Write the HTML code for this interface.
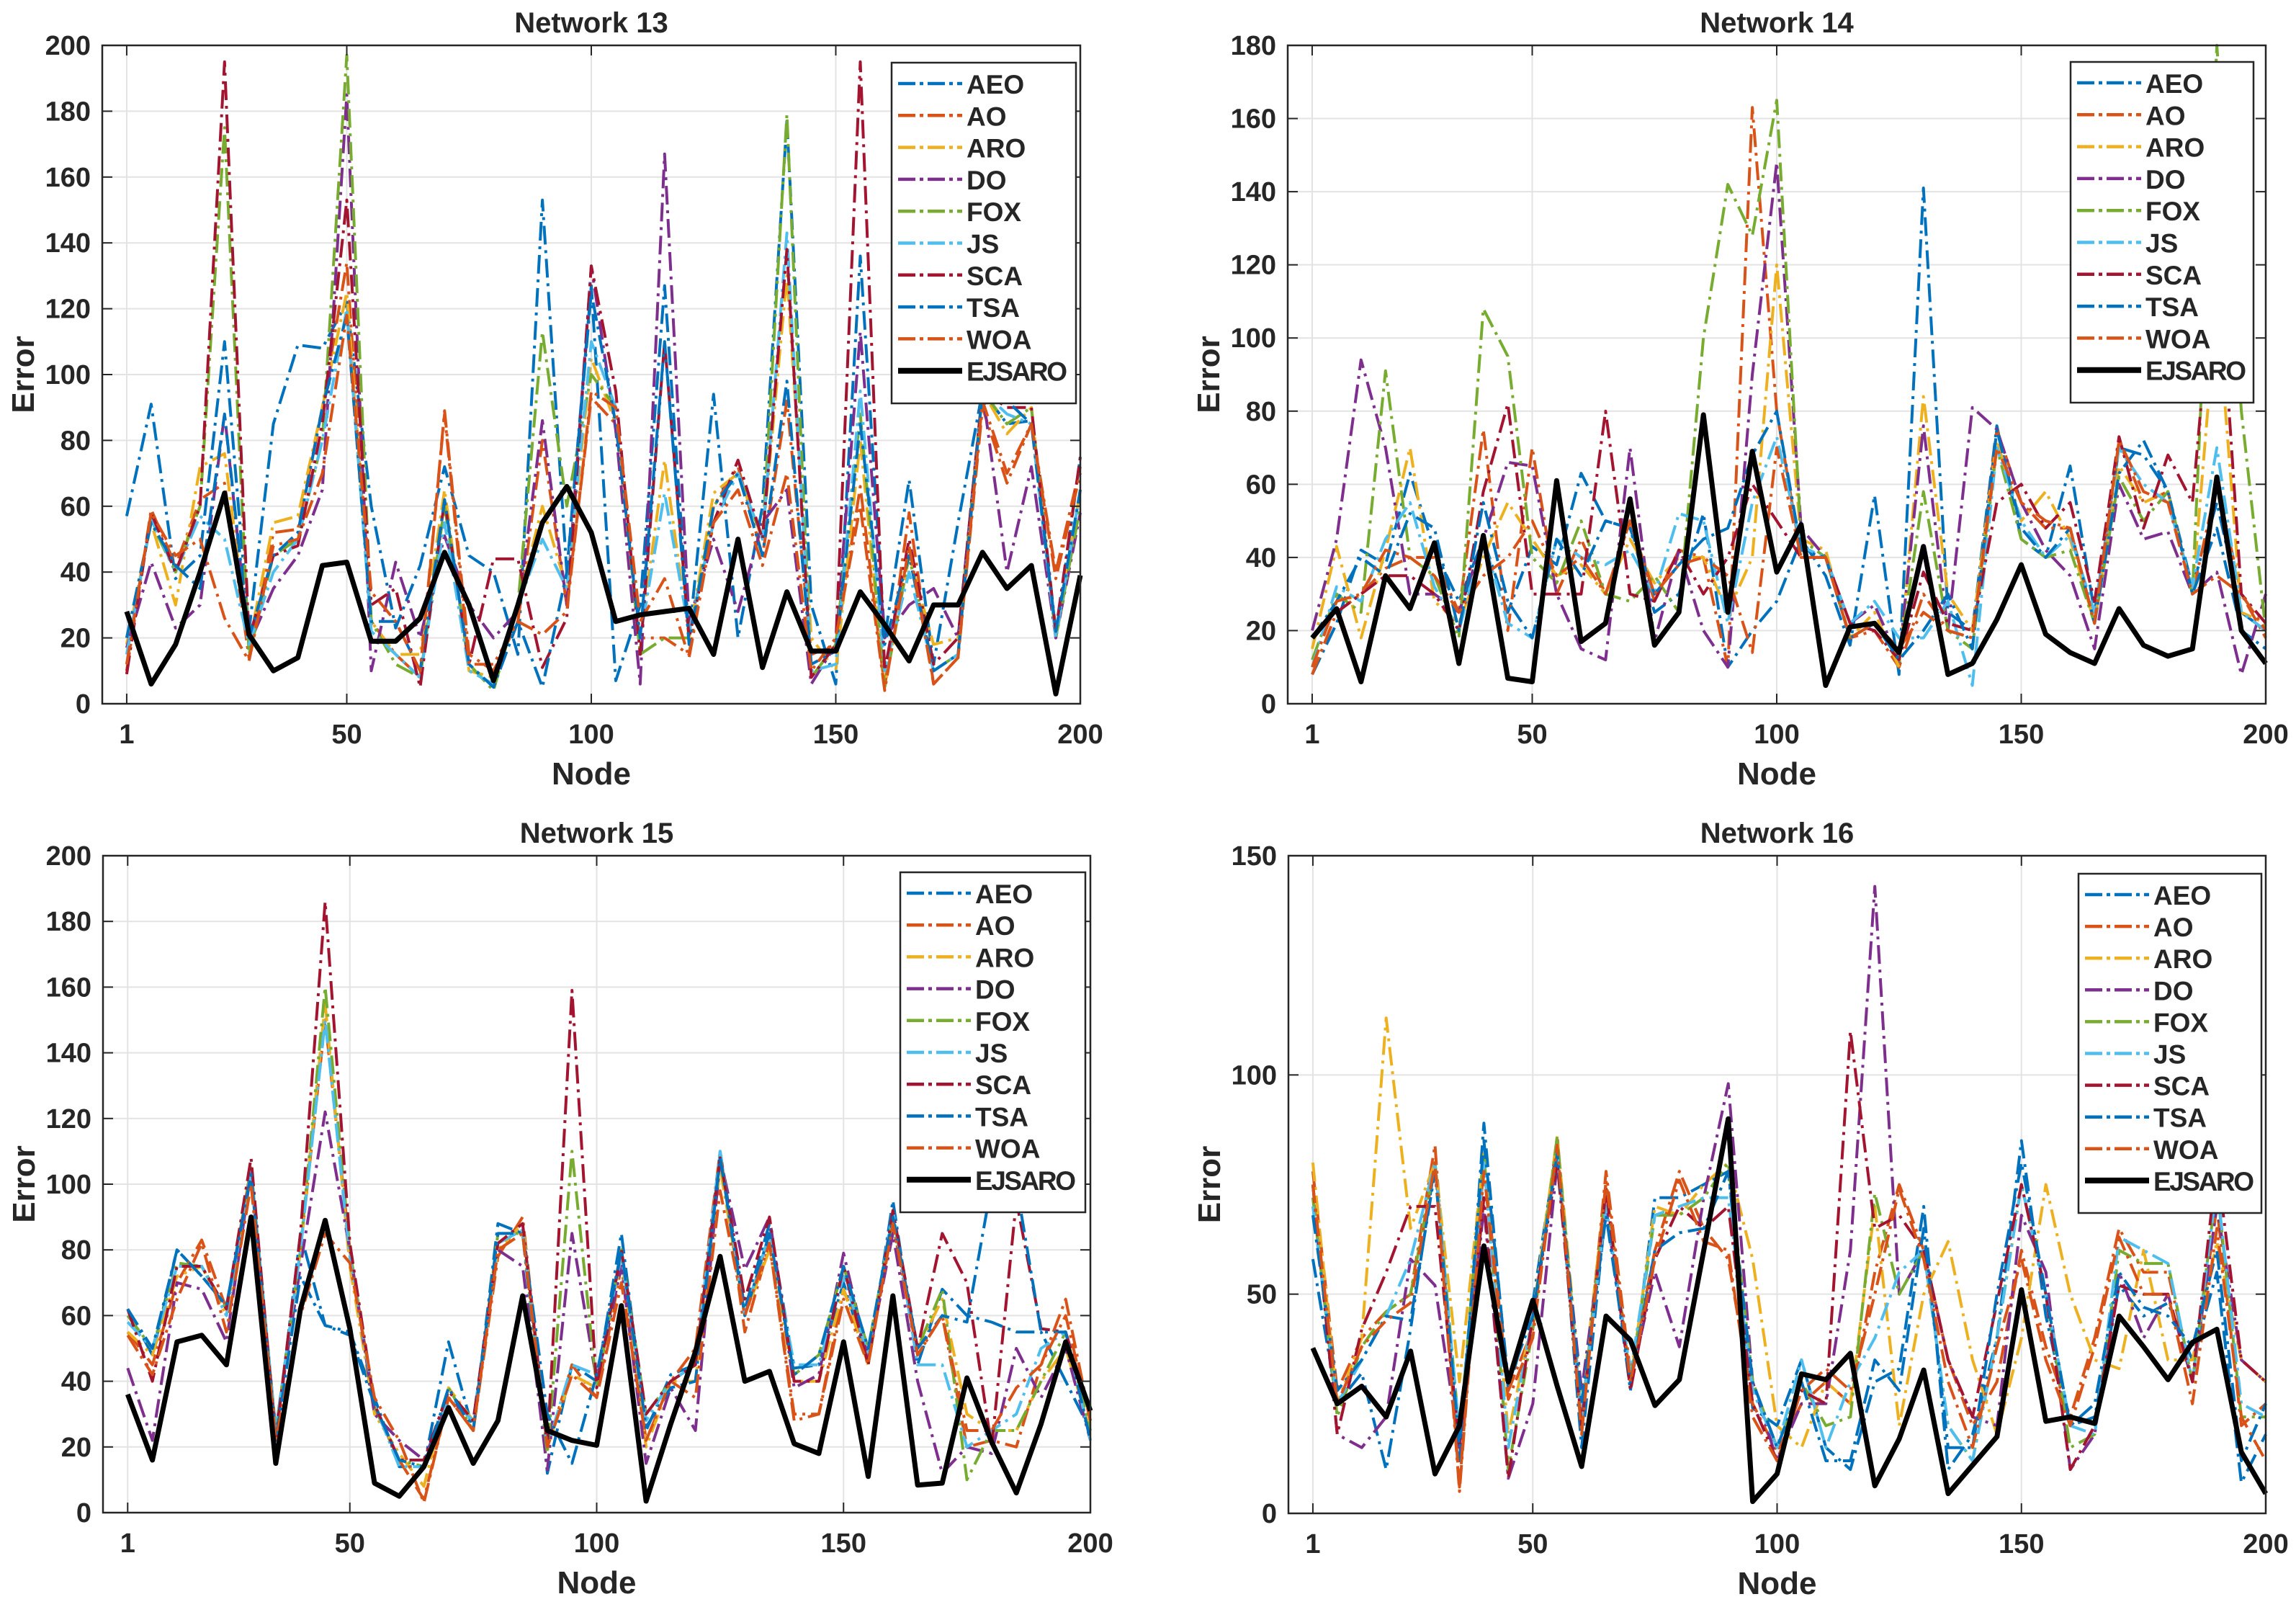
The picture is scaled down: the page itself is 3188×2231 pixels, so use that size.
<!DOCTYPE html>
<html><head><meta charset="utf-8">
<style>
html,body{margin:0;padding:0;background:#fff;}
svg{display:block;}
text{font-family:"Liberation Sans",Arial,sans-serif;font-weight:bold;fill:#262626;}
</style></head>
<body>
<svg id="fig" width="3188" height="2231" viewBox="0 0 3188 2231" xmlns="http://www.w3.org/2000/svg"></svg>
<script>
const seriesNames = ["AEO","AO","ARO","DO","FOX","JS","SCA","TSA","WOA","EJSARO"];
const seriesColors = ["#0072BD","#D95319","#EDB120","#7E2F8E","#77AC30","#4DBEEE","#A2142F","#0072BD","#D95319","#000000"];
const nodes = [5,10,15,20,25,30,35,40,45,50,55,60,65,70,75,80,85,90,95,100,105,110,115,120,125,130,135,140,145,150,155,160,165,170,175,180,185,190,195,200];
const xTickValues = [5,50,100,150,200];
const xTickLabels = ["1","50","100","150","200"];

const n13_AEO = [57,91,38,45,110,22,85,109,108,122,60,23,42,72,45,40,15,153,40,127,7,30,127,20,94,20,60,177,30,6,136,20,68,12,55,95,85,86,20,75];
const n13_AO = [10,59,42,62,67,14,52,53,90,134,25,15,8,89,15,10,25,80,30,93,85,20,20,15,60,72,45,92,15,18,66,5,58,6,14,90,67,85,40,72];
const n13_ARO = [18,55,30,72,76,18,55,57,90,125,25,15,15,65,10,8,30,60,35,105,85,20,74,20,64,70,50,130,20,10,80,5,45,18,20,95,82,90,20,65];
const n13_DO = [17,43,23,30,88,18,35,45,65,185,10,43,20,51,30,20,28,86,30,133,83,6,167,25,50,28,55,65,6,18,113,20,30,35,20,95,40,72,20,58];
const n13_FOX = [20,55,40,60,175,15,45,50,80,197,25,12,8,60,12,4,30,113,60,100,90,15,20,20,60,70,50,179,8,18,88,5,45,10,15,95,85,90,20,60];
const n13_JS = [15,56,40,57,50,18,40,50,80,120,22,15,8,55,10,6,30,50,35,110,90,20,64,22,55,70,50,143,10,12,95,10,40,10,15,95,88,85,20,65];
const n13_SCA = [9,58,40,60,195,20,45,48,85,153,30,35,5,62,12,44,44,11,26,133,95,15,110,20,55,74,50,138,8,18,195,10,50,12,20,95,90,90,22,75];
const n13_TSA = [20,55,42,35,88,20,45,52,90,118,25,25,10,62,12,5,25,5,40,125,85,20,110,18,60,70,45,98,12,16,85,18,45,10,15,95,92,85,22,65];
const n13_WOA = [12,58,45,50,26,13,48,50,70,118,34,25,10,88,12,12,25,21,28,95,90,25,38,14,55,65,42,70,10,20,60,4,48,6,14,92,70,85,38,70];
const n13_EJSARO = [28,6,18,40,64,21,10,14,42,43,19,19,26,46,30,7,30,55,66,52,25,27,28,29,15,50,11,34,16,16,34,24,13,30,30,46,35,42,3,39];

const n14_AEO = [8,22,42,38,63,42,28,45,25,43,38,63,50,48,25,30,52,10,20,28,45,35,16,57,8,141,25,20,76,45,40,65,25,70,68,58,32,55,25,20];
const n14_AO = [8,25,30,37,40,40,25,75,20,70,30,45,30,50,28,42,40,10,163,80,40,40,18,20,10,30,20,18,75,55,48,48,22,72,55,58,30,60,30,18];
const n14_ARO = [15,43,18,42,70,28,22,40,55,45,35,38,30,45,33,40,40,25,40,120,45,42,18,25,10,84,30,20,72,50,58,45,22,65,55,58,30,110,25,22];
const n14_DO = [20,45,94,70,30,30,25,45,66,65,30,15,12,70,17,42,20,10,90,148,48,40,22,27,12,76,20,81,75,55,42,35,15,60,45,47,30,36,8,30];
const n14_FOX = [12,30,25,91,40,35,18,108,95,40,33,50,30,28,35,25,100,142,128,165,45,40,18,22,12,58,20,15,70,45,40,42,22,62,50,58,30,180,80,20];
const n14_JS = [10,32,28,45,55,32,20,45,22,18,45,40,38,42,30,52,50,22,55,73,43,40,22,28,18,18,28,5,70,50,40,46,25,70,60,55,32,70,25,20];
const n14_SCA = [18,25,30,35,35,30,20,58,82,30,30,30,80,30,28,42,30,40,60,50,40,40,22,20,12,36,22,20,55,60,48,55,28,73,48,68,55,130,30,22];
const n14_TSA = [18,28,40,35,52,48,20,55,28,18,45,35,50,48,30,38,45,48,68,80,42,40,18,22,12,20,30,15,75,48,40,48,22,63,72,58,30,48,20,15];
const n14_WOA = [10,28,30,42,40,35,25,35,40,50,35,40,30,50,30,38,40,35,14,70,40,40,18,22,15,25,20,18,70,55,50,48,22,72,58,55,30,35,30,20];
const n14_EJSARO = [18,26,6,35,26,44,11,46,7,6,61,17,22,56,16,25,79,25,69,36,49,5,21,22,14,43,8,11,23,38,19,14,11,26,16,13,15,62,20,11];

const n15_AEO = [62,48,80,72,63,103,22,85,57,55,35,14,14,52,25,88,85,12,45,40,85,25,42,45,110,62,88,44,45,70,45,95,45,68,60,58,55,55,40,25];
const n15_AO = [55,45,70,83,62,105,24,80,150,80,32,16,4,35,25,78,90,20,45,35,75,22,40,50,110,55,82,28,30,68,48,88,48,60,20,22,20,45,65,28];
const n15_ARO = [55,48,72,75,60,105,22,80,155,75,30,18,8,38,28,80,88,20,42,38,78,20,40,40,105,60,80,40,40,68,45,90,50,65,30,25,25,40,50,25];
const n15_DO = [44,22,70,68,52,104,25,75,122,80,30,22,16,35,28,80,75,13,85,40,75,15,38,25,108,74,90,38,42,79,47,85,40,12,20,18,50,35,50,22];
const n15_FOX = [60,50,76,75,62,105,25,80,160,80,32,16,14,38,25,85,85,18,110,38,80,30,40,45,108,60,85,42,48,75,50,90,50,68,10,25,25,40,55,25];
const n15_JS = [58,50,75,75,60,104,25,80,150,78,33,14,14,35,28,82,86,20,45,42,78,28,40,45,110,60,85,45,45,72,48,92,45,45,20,25,30,50,55,22];
const n15_SCA = [62,40,75,75,62,108,22,85,186,82,33,16,16,37,28,82,88,20,159,38,80,30,40,45,108,65,90,40,40,75,45,92,50,85,70,20,95,56,55,30];
const n15_TSA = [62,50,80,72,63,103,22,72,57,54,33,16,14,38,25,85,85,30,15,42,80,26,38,40,108,60,85,42,48,75,50,90,50,60,58,100,100,55,55,22];
const n15_WOA = [54,42,65,82,55,100,22,60,85,76,35,22,3,35,25,80,85,20,42,35,70,22,40,35,98,60,82,30,30,65,45,88,48,60,25,25,38,45,60,28];
const n15_EJSARO = [36,16,52,54,45,90,15,62,89,56,9,5,14,32,15,28,66,25,22,20.5,63,3.5,27,49,78,40,43,21,18,52,11,66,8.4,9,41,21.5,6,27,52,31];

const n16_AEO = [58,25,32,10,42,80,12,89,28,48,84,15,70,28,72,72,75,78,24,20,35,15,10,30,33,70,10,18,40,85,45,20,22,52,45,48,35,55,7,18];
const n16_AO = [78,28,40,46,50,84,6,80,28,42,86,20,78,32,60,78,65,58,25,14,25,30,25,55,75,60,35,20,30,60,38,22,40,65,55,55,30,70,20,25];
const n16_ARO = [80,25,40,113,65,80,30,82,18,45,86,25,75,30,70,68,75,80,58,20,15,30,25,70,20,50,62,35,18,40,75,50,35,33,60,35,35,62,35,30];
const n16_DO = [75,18,15,22,58,52,15,70,8,25,80,28,70,30,55,38,72,98,30,12,25,25,60,143,50,60,35,22,20,68,55,10,18,55,40,50,30,70,35,30];
const n16_FOX = [72,22,38,46,50,80,18,82,10,42,86,22,74,30,68,68,72,80,30,15,30,20,22,73,50,60,20,12,40,75,50,15,18,60,57,57,30,75,22,22];
const n16_JS = [70,25,35,45,58,80,18,80,15,45,82,22,70,32,68,70,72,72,28,15,35,15,30,40,55,60,20,12,40,75,50,20,18,63,60,57,30,75,25,22];
const n16_SCA = [75,18,42,55,70,70,15,72,8,45,80,20,74,28,58,70,65,70,25,12,28,25,110,65,68,60,35,22,48,75,50,10,20,52,50,50,30,80,35,30];
const n16_TSA = [68,28,35,45,44,78,15,85,30,45,82,25,68,30,60,64,65,78,30,15,30,12,12,35,28,65,15,15,50,80,50,20,25,55,47,45,38,60,12,25];
const n16_WOA = [75,25,38,44,48,80,5,78,26,40,84,18,76,30,58,76,62,60,22,12,28,33,28,50,74,58,30,15,38,58,35,20,38,63,50,50,25,65,22,12];
const n16_EJSARO = [37.7,25,29,22,37,9,20,61,30,48.6,29,10.7,45,39.5,24.6,30.5,60,90,2.7,9,31.8,30.5,36.5,6.3,17,32.7,4.5,11,17.5,51,21,22,20.5,45,38,30.5,39,42,14,4.5];

const yMax13 = 200, yMax14 = 180, yMax15 = 200, yMax16 = 150;
const yTicks13 = [0,20,40,60,80,100,120,140,160,180,200];
const yTicks14 = [0,20,40,60,80,100,120,140,160,180];
const yTicks15 = [0,20,40,60,80,100,120,140,160,180,200];
const yTicks16 = [0,50,100,150];

const NS = "http://www.w3.org/2000/svg";
const svg = document.getElementById('fig');
function mk(tag, attrs, parent){
  const e = document.createElementNS(NS, tag);
  for (const k in attrs) e.setAttribute(k, attrs[k]);
  (parent||svg).appendChild(e);
  return e;
}

const panels = [
  {title:"Network 13", box:[142,63,1500,977], ymax:yMax13, yt:yTicks13, data:[n13_AEO,n13_AO,n13_ARO,n13_DO,n13_FOX,n13_JS,n13_SCA,n13_TSA,n13_WOA,n13_EJSARO], leg:[1238,87,1494,560], key:"network-13"},
  {title:"Network 14", box:[1788,63,3146,977], ymax:yMax14, yt:yTicks14, data:[n14_AEO,n14_AO,n14_ARO,n14_DO,n14_FOX,n14_JS,n14_SCA,n14_TSA,n14_WOA,n14_EJSARO], leg:[2875,86,3129,559], key:"network-14"},
  {title:"Network 15", box:[143,1188,1514,2100], ymax:yMax15, yt:yTicks15, data:[n15_AEO,n15_AO,n15_ARO,n15_DO,n15_FOX,n15_JS,n15_SCA,n15_TSA,n15_WOA,n15_EJSARO], leg:[1250,1211,1507,1683], key:"network-15"},
  {title:"Network 16", box:[1789,1188,3146,2101], ymax:yMax16, yt:yTicks16, data:[n16_AEO,n16_AO,n16_ARO,n16_DO,n16_FOX,n16_JS,n16_SCA,n16_TSA,n16_WOA,n16_EJSARO], leg:[2886,1213,3140,1684], key:"network-16"}
];

panels.forEach(p => {
  const [L,T,R,B] = p.box;
  const g = mk('g', {});
  
  
  const xs = v => L + (v/200)*(R-L);
  const ys = v => B - (v/p.ymax)*(B-T);
  xTickValues.forEach(v => {
    const gl = mk('line', {x1:xs(v), x2:xs(v), y1:T, y2:B, stroke:'#e3e3e3', 'stroke-width':2}, g);
    
    
  });
  p.yt.forEach(v => {
    const gl = mk('line', {x1:L, x2:R, y1:ys(v), y2:ys(v), stroke:'#e3e3e3', 'stroke-width':2}, g);
    
    
  });
  p.data.forEach((arr, si) => {
    const pts = arr.map((v,i) => xs(nodes[i]).toFixed(1) + ',' + ys(Math.min(v,p.ymax)).toFixed(1)).join(' ');
    const isBlack = si === 9;
    const pl = mk('polyline', {points:pts, fill:'none', stroke:seriesColors[si], 'stroke-width': isBlack?7:4, 'stroke-linejoin':'round'}, g);
    if (!isBlack) pl.setAttribute('stroke-dasharray', '26 8 4 8');
    
    
  });
  const fr = mk('rect', {x:L, y:T, width:R-L, height:B-T, fill:'none', stroke:'#262626', 'stroke-width':2.5}, g);
  
  
  xTickValues.forEach((v,i) => {
    const tk = mk('line', {x1:xs(v), x2:xs(v), y1:B, y2:B-14, stroke:'#262626', 'stroke-width':2}, g);
    
    
    const tk2 = mk('line', {x1:xs(v), x2:xs(v), y1:T, y2:T+14, stroke:'#262626', 'stroke-width':2}, g);
    
    
    const tl = mk('text', {x:xs(v), y:B+55, 'text-anchor':'middle', 'font-size':38}, g);
    tl.textContent = xTickLabels[i];
    
    
  });
  p.yt.forEach(v => {
    const tk = mk('line', {x1:L, x2:L+14, y1:ys(v), y2:ys(v), stroke:'#262626', 'stroke-width':2}, g);
    
    
    const tk2 = mk('line', {x1:R, x2:R-14, y1:ys(v), y2:ys(v), stroke:'#262626', 'stroke-width':2}, g);
    
    
    const tl = mk('text', {x:L-16, y:ys(v)+13, 'text-anchor':'end', 'font-size':38}, g);
    tl.textContent = String(v);
    
    
  });
  const tt = mk('text', {x:(L+R)/2, y:T-18, 'text-anchor':'middle', 'font-size':40}, g);
  tt.textContent = p.title;
  
  
  const xl = mk('text', {x:(L+R)/2, y:B+112, 'text-anchor':'middle', 'font-size':44}, g);
  xl.textContent = 'Node';
  
  
  const cy = (T+B)/2;
  const yl = mk('text', {x:L-95, y:cy, 'text-anchor':'middle', 'font-size':44, transform:'rotate(-90 '+(L-95)+' '+cy+')'}, g);
  yl.textContent = 'Error';
  
  
  const [lx0,ly0,lx1,ly1] = p.leg;
  const lg = mk('g', {}, g);
  
  
  const lb = mk('rect', {x:lx0, y:ly0, width:lx1-lx0, height:ly1-ly0, fill:'#fff', stroke:'#262626', 'stroke-width':2.5}, lg);
  
  
  const step = (ly1-ly0-30)/10;
  seriesNames.forEach((nm, si) => {
    const yy = ly0 + 29 + step*si;
    const eg = mk('g', {}, lg);
    
    
    const ln = mk('line', {x1:lx0+9, x2:lx0+98, y1:yy, y2:yy, stroke:seriesColors[si], 'stroke-width': si===9?8:4.5}, eg);
    if (si !== 9) ln.setAttribute('stroke-dasharray', '24 6 5 6');
    
    
    const tx = mk('text', {x:lx0+104, y:yy+14, 'font-size':37, textLength: nm.length>4 ? 140 : null}, eg);
    if (nm.length <= 4) tx.removeAttribute('textLength');
    tx.textContent = nm;
    
    
  });
});
</script>
</body></html>
